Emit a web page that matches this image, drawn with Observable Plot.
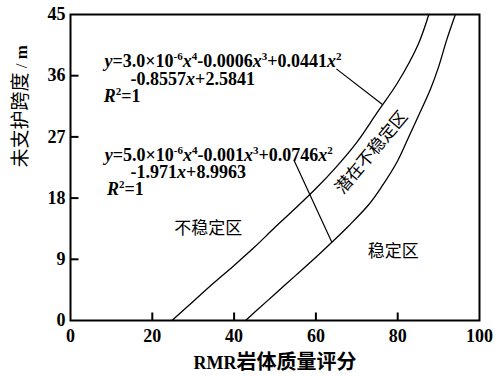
<!DOCTYPE html>
<html><head><meta charset="utf-8">
<script src="https://cdn.jsdelivr.net/npm/d3@7"></script>
<script src="https://cdn.jsdelivr.net/npm/@observablehq/plot@0.6"></script>
<style>body{margin:0;background:#fff;} svg{display:block}</style>
</head><body><div id="chart"></div>
<script>
// ---- data ----
const xTicks = [0, 20, 40, 60, 80, 100];
const xInnerTicks = [20, 40, 60, 80];
const yTicks = [0, 9, 18, 27, 36, 45];
const yInnerTicks = [9, 18, 27, 36];

const upperX = [24.8, 30, 35, 40, 45, 50, 55, 60, 65, 70, 75, 80, 85, 87.6];
const upperY = [0, 2.8, 5.5, 8.1, 10.8, 13.7, 16.5, 19.4, 22.6, 26.2, 30.6, 35.0, 40.6, 45];

const lowerX = [42.8, 45, 50, 55, 60, 63.9, 68, 73, 76, 80, 83, 85, 88, 90, 92, 94.1];
const lowerY = [0, 1.2, 3.9, 6.6, 9.3, 11.5, 13.9, 17.1, 19.6, 23.5, 27.4, 30.0, 34.0, 37.3, 41.3, 45];

const leaderX1 = [65.0, 54.7];
const leaderY1 = [37.0, 23.5];
const leaderX2 = [76.2, 63.9];
const leaderY2 = [31.8, 11.5];

const eqText = ["y=3.0×10^-6x^4-0.0006x^3+0.0441x^2", "-0.8557x+2.5841", "R^2=1",
                "y=5.0×10^-6x^4-0.001x^3+0.0746x^2", "-1.971x+8.9963", "R^2=1"];
const eqX = [8.3, 14.7, 8.1, 8.4, 14.7, 8.9];
const eqY = [37.35, 34.7, 32.1, 23.5, 20.9, 18.4];

const zoneText = ["不稳定区", "稳定区"];
const zoneX = [33.7, 78.9];
const zoneY = [13.5, 10.1];
const bandText = ["潜在不稳定区"];
const bandX = [73.6];
const bandY = [24.7];

const xLabel = "RMR岩体质量评分";
const yLabel = "未支护跨度 / m";

// ---- tables ----
const upper = upperX.map((x, i) => ({x, y: upperY[i]}));
const lower = lowerX.map((x, i) => ({x, y: lowerY[i]}));
const leaders = leaderX1.map((x, i) => ({x1: x, y1: leaderY1[i], x2: leaderX2[i], y2: leaderY2[i]}));
const eqs = eqText.map((t, i) => ({t, x: eqX[i], y: eqY[i]}));
const zones = zoneText.map((t, i) => ({t, x: zoneX[i], y: zoneY[i]}));
const band = bandText.map((t, i) => ({t, x: bandX[i], y: bandY[i]}));

const SERIF = "'Liberation Serif','Times New Roman',serif";
const CJK = "'Noto Sans CJK SC','Noto Sans CJK JP',sans-serif";

const W = 501, H = 376, ML = 70, MR = 22, MT = 14, MB = 56, TICK = 8;
const xDom = [0, 100], yDom = [0, 45];
// inward tick length (TICK px) expressed in each axis' data units
const tickLenX = TICK * (xDom[1] - xDom[0]) / (W - ML - MR);
const tickLenY = TICK * (yDom[1] - yDom[0]) / (H - MT - MB);

const chart = Plot.plot({
  width: W, height: H,
  marginLeft: ML, marginRight: MR, marginTop: MT, marginBottom: MB,
  style: {fontFamily: SERIF, background: "#fff", color: "#000"},
  x: {domain: xDom},
  y: {domain: yDom},
  marks: [
    Plot.axisX(xTicks, {tickSize: 0, tickPadding: 9, fontSize: 18, fontWeight: "bold", label: null}),
    Plot.axisY(yTicks, {tickSize: 0, tickPadding: 5, fontSize: 18, fontWeight: "bold", label: null}),
    Plot.link(xInnerTicks, {x1: d => d, x2: d => d, y1: () => yDom[0], y2: () => yDom[0] + tickLenY,
      stroke: "#000", strokeWidth: 2}),
    Plot.link(yInnerTicks, {y1: d => d, y2: d => d, x1: () => xDom[0], x2: () => xDom[0] + tickLenX,
      stroke: "#000", strokeWidth: 2}),
    Plot.line(upper, {x: "x", y: "y", stroke: "#000", strokeWidth: 1.3, curve: "catmull-rom"}),
    Plot.line(lower, {x: "x", y: "y", stroke: "#000", strokeWidth: 1.3, curve: "catmull-rom"}),
    Plot.link(leaders, {x1: "x1", y1: "y1", x2: "x2", y2: "y2", stroke: "#000", strokeWidth: 1.2}),
    Plot.text(eqs, {x: "x", y: "y", text: "t", textAnchor: "start", lineAnchor: "bottom",
      fontSize: 18, fontWeight: "bold", fontFamily: SERIF, fill: "#000"}),
    Plot.text(zones, {x: "x", y: "y", text: "t", fontSize: 17, fontFamily: CJK, fill: "#000"}),
    Plot.text(band, {x: "x", y: "y", text: "t", fontSize: 17, fontFamily: CJK, fill: "#000", rotate: -50}),
    Plot.text([xLabel], {frameAnchor: "bottom", dy: 48, text: d => d, fontSize: 18, fill: "#000"}),
    Plot.text([yLabel], {frameAnchor: "left", dx: -49, rotate: -90, text: d => d, fontSize: 18, fill: "#000"}),
    Plot.frame({stroke: "#000", strokeWidth: 2})
  ]
});

// ---- rich text post-processing (superscripts, italics, mixed fonts) ----
const NS = "http://www.w3.org/2000/svg";
function setRich(el, segs) {
  while (el.firstChild) el.removeChild(el.firstChild);
  let shift = 0;
  for (const s of segs) {
    const t = document.createElementNS(NS, "tspan");
    t.textContent = s.t;
    if (s.style) for (const [k, v] of Object.entries(s.style)) t.setAttribute(k, v);
    const target = s.sup ? -7 : 0;
    if (target !== shift) { t.setAttribute("dy", target - shift); shift = target; }
    el.appendChild(t);
  }
}
function parseEq(str) {
  const segs = [];
  const re = /\^(-?\d+)|([xyR])|([^\^xyR]+)/g;
  let m;
  while ((m = re.exec(str))) {
    if (m[1]) segs.push({t: m[1], sup: true, style: {"font-size": 11}});
    else if (m[2]) segs.push({t: m[2], style: {"font-style": "italic"}});
    else segs.push({t: m[3]});
  }
  return segs;
}
for (const el of chart.querySelectorAll("text")) {
  const s = el.textContent;
  if (eqText.includes(s)) setRich(el, parseEq(s));
  else if (s === xLabel) setRich(el, [
    {t: "RMR", style: {"font-family": SERIF, "font-weight": "bold", "font-size": 18}},
    {t: "岩体质量评分", style: {"font-family": CJK, "font-weight": "bold", "font-size": 20}}
  ]);
  else if (s === yLabel) setRich(el, [
    {t: "未支护跨度", style: {"font-family": CJK, "font-size": 19}},
    {t: " / ", style: {"font-family": SERIF, "font-size": 17}},
    {t: "m", style: {"font-family": SERIF, "font-weight": "bold", "font-size": 17}}
  ]);
}
document.getElementById("chart").appendChild(chart);
</script>
</body></html>
